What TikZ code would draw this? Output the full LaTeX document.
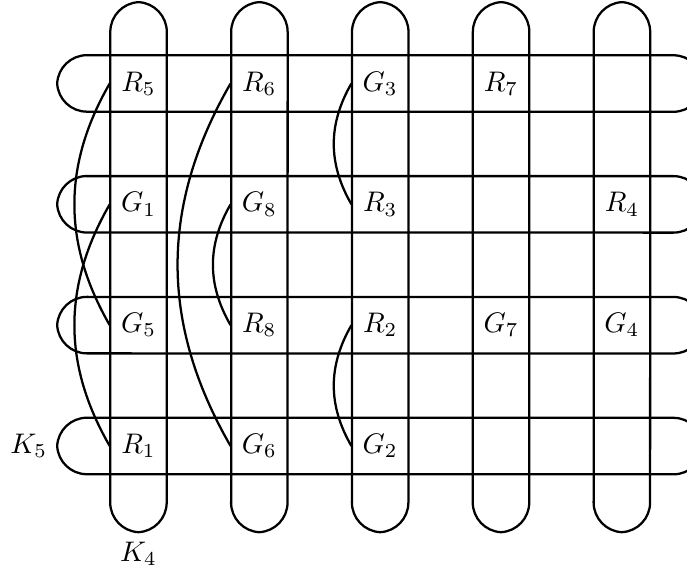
\documentclass[tikz,border=0pt]{standalone}
\usetikzlibrary{positioning}

\begin{document}
\begin{tikzpicture}[
    band/.style={thick},
    cell/.style={inner sep=0pt,minimum size=7mm},
    link/.style={thick}
    ]

    \useasboundingbox (-1.719,-1.589) rectangle (6.808,5.536);

    % vertical bands
    \foreach \c [evaluate=\c as \x using (\c-1)*1.5] in {1,...,5} {
      \draw[band] (\x-0.35,-0.70) -- (\x-0.35,5.14)
        arc[start angle=180,end angle=93,radius=0.37] coordinate (vt\c)
        arc[start angle=87,end angle=0,radius=0.37] -- (\x+0.35,-0.70)
        arc[start angle=0,end angle=-87,radius=0.37] coordinate (vb\c)
        arc[start angle=-93,end angle=-180,radius=0.37] -- cycle;
    }

    % horizontal bands
    \foreach \r [evaluate=\r as \y using (4-\r)*1.5] in {1,...,4} {
      \draw[band] (-0.64,\y+0.35) -- (6.64,\y+0.35)
        arc[start angle=90,end angle=3,radius=0.37] coordinate (hr\r)
        arc[start angle=-3,end angle=-90,radius=0.37] -- (-0.64,\y-0.35)
        arc[start angle=270,end angle=183,radius=0.37] coordinate (hl\r)
        arc[start angle=177,end angle=90,radius=0.37] -- cycle;
    }

    \node(R5) [cell] at (0,4.5) {$R_5$};
    \node(R6) [cell] at (1.5,4.5) {$R_6$};
    \node(G3) [cell] at (3,4.5) {$G_3$};
    \node(R7) [cell] at (4.5,4.5) {$R_7$};

    \node(G1) [cell] at (0,3) {$G_1$};
    \node(G8) [cell] at (1.5,3) {$G_8$};
    \node(R3) [cell] at (3,3) {$R_3$};
    \node(R4) [cell] at (6,3) {$R_4$};

    \node(G5) [cell] at (0,1.5) {$G_5$};
    \node(R8) [cell] at (1.5,1.5) {$R_8$};
    \node(R2) [cell] at (3,1.5) {$R_2$};
    \node(G7) [cell] at (4.5,1.5) {$G_7$};
    \node(G4) [cell] at (6,1.5) {$G_4$};

    \node(R1) [cell] at (0,0) {$R_1$};
    \node(G6) [cell] at (1.5,0) {$G_6$};
    \node(G2) [cell] at (3,0) {$G_2$};

    \node(K5) [left] at (hl4) {$K_5$};
    \node(K4) [below] at (vb1) {$K_4$};

    \draw[link] (R5.west) to[bend right] (G5.west);
    \draw[link] (G1.west) to[bend right] (R1.west);
    \draw[link] (R6.west) to[bend right] (G6.west);
    \draw[link] (G8.west) to[bend right] (R8.west);
    \draw[link] (G3.west) to[bend right] (R3.west);
    \draw[link] (R2.west) to[bend right] (G2.west);

  \end{tikzpicture}
\end{document}
